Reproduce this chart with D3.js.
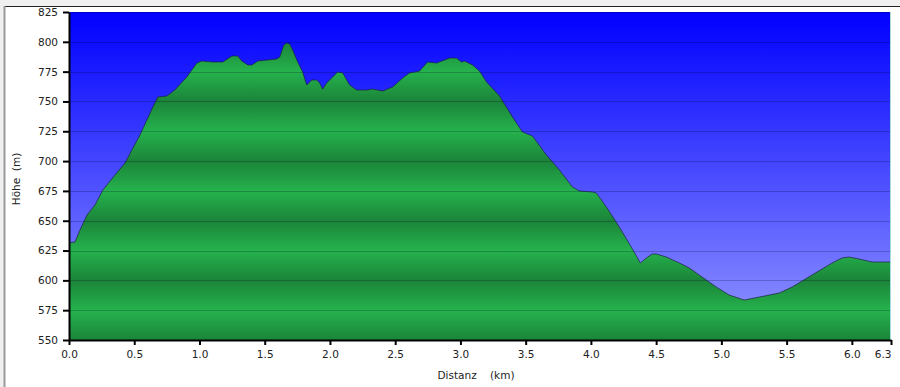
<!DOCTYPE html>
<html>
<head>
<meta charset="utf-8">
<script src="https://cdn.jsdelivr.net/npm/d3@7"></script>
<style>
  body { margin: 0; background: #f0f0f0; }
  svg { display: block; font-family: "DejaVu Sans", Verdana, sans-serif; }
</style>
</head>
<body>
<div id="vis"></div>
<script>
const FRAME_WIDTH = 900;
const FRAME_HEIGHT = 387;
const MARGINS = {left: 69, right: 9, top: 12, bottom: 47};
const VIS_WIDTH = FRAME_WIDTH - MARGINS.left - MARGINS.right;
const VIS_HEIGHT = FRAME_HEIGHT - MARGINS.top - MARGINS.bottom;

// profile: distance (km) and height (m)
const distKm = [0.000, 0.046, 0.084, 0.138, 0.199, 0.260, 0.352, 0.429, 0.482, 0.544,
  0.597, 0.643, 0.681, 0.750, 0.811, 0.903, 0.980, 1.018, 1.102, 1.179,
  1.248, 1.294, 1.324, 1.370, 1.401, 1.447, 1.592, 1.615, 1.646, 1.669,
  1.692, 1.715, 1.753, 1.791, 1.822, 1.860, 1.899, 1.921, 1.944, 1.975,
  2.021, 2.059, 2.098, 2.151, 2.205, 2.281, 2.327, 2.404, 2.480, 2.557,
  2.610, 2.687, 2.748, 2.817, 2.917, 2.970, 3.008, 3.031, 3.093, 3.146,
  3.200, 3.300, 3.399, 3.475, 3.552, 3.659, 3.759, 3.858, 3.912, 4.011,
  4.042, 4.119, 4.218, 4.318, 4.379, 4.425, 4.471, 4.502, 4.578, 4.678,
  4.754, 4.830, 4.961, 5.060, 5.175, 5.290, 5.443, 5.542, 5.695, 5.849,
  5.925, 5.979, 6.055, 6.155, 6.300];
const heightM = [631.3, 632.2, 642.2, 654.8, 663.2, 675.8, 688.3, 698.4, 709.3, 721.9,
  734.5, 745.4, 753.7, 754.6, 759.6, 770.5, 782.2, 783.9, 783.1, 783.1,
  788.1, 788.1, 783.9, 780.6, 780.6, 783.9, 785.6, 787.3, 797.3, 799.0,
  798.2, 793.1, 783.1, 774.7, 763.8, 768.0, 768.0, 765.5, 760.4, 765.5,
  770.5, 774.7, 773.9, 763.8, 759.6, 759.6, 760.4, 758.8, 762.1, 769.7,
  773.9, 775.5, 783.1, 782.2, 786.4, 786.4, 783.1, 783.9, 780.6, 775.5,
  766.3, 754.6, 737.0, 724.4, 721.0, 705.1, 692.5, 678.3, 674.9, 674.1,
  673.2, 661.5, 644.7, 626.3, 614.6, 618.8, 622.1, 622.1, 619.6, 614.6,
  610.4, 604.5, 594.4, 587.7, 583.5, 586.0, 589.4, 594.4, 604.5, 614.6,
  618.8, 619.6, 617.9, 615.4, 615.4];

const yTicks = [550, 575, 600, 625, 650, 675, 700, 725, 750, 775, 800, 825];
const xTicks = [0, 0.5, 1.0, 1.5, 2.0, 2.5, 3.0, 3.5, 4.0, 4.5, 5.0, 5.5, 6.0, 6.3];

const profile = distKm.map((d, i) => ({km: d, m: heightM[i]}));

const FRAME = d3.select("#vis")
  .append("svg")
  .attr("width", FRAME_WIDTH)
  .attr("height", FRAME_HEIGHT);

// panel
FRAME.append("rect")
  .attr("x", 4).attr("y", 6)
  .attr("width", FRAME_WIDTH - 4).attr("height", FRAME_HEIGHT - 6)
  .attr("fill", "#fff");
FRAME.append("line")
  .attr("x1", 4).attr("x2", FRAME_WIDTH).attr("y1", 6.5).attr("y2", 6.5)
  .attr("stroke", "#222");
FRAME.append("line")
  .attr("x1", 4.5).attr("x2", 4.5).attr("y1", 6).attr("y2", FRAME_HEIGHT)
  .attr("stroke", "#999").attr("stroke-width", 2);

const X_SCALE = d3.scaleLinear().domain([0, 6.3]).range([MARGINS.left, MARGINS.left + VIS_WIDTH]);
const Y_SCALE = d3.scaleLinear().domain([550, 825]).range([MARGINS.top + VIS_HEIGHT, MARGINS.top]);

const defs = FRAME.append("defs");

const sky = defs.append("linearGradient")
  .attr("id", "sky")
  .attr("x1", 0).attr("x2", 0).attr("y1", 0).attr("y2", 1);
sky.append("stop").attr("offset", "0%").attr("stop-color", "#0000ff");
sky.append("stop").attr("offset", "100%").attr("stop-color", "#9498ff");

// light on the odd 25s, dark on the 50s, repeated by reflection
const ground = defs.append("linearGradient")
  .attr("id", "ground")
  .attr("gradientUnits", "userSpaceOnUse")
  .attr("spreadMethod", "reflect")
  .attr("x1", 0).attr("x2", 0)
  .attr("y1", Y_SCALE(575)).attr("y2", Y_SCALE(550));
ground.append("stop").attr("offset", "0%").attr("stop-color", "#25b24d");
ground.append("stop").attr("offset", "100%").attr("stop-color", "#1b8439");

FRAME.append("rect")
  .attr("x", MARGINS.left).attr("y", MARGINS.top)
  .attr("width", VIS_WIDTH).attr("height", VIS_HEIGHT)
  .attr("fill", "url(#sky)");

const area = d3.area()
  .x((d) => X_SCALE(d.km))
  .y0(Y_SCALE(550))
  .y1((d) => Y_SCALE(d.m));

const line = d3.line()
  .x((d) => X_SCALE(d.km))
  .y((d) => Y_SCALE(d.m));

FRAME.append("path")
  .datum(profile)
  .attr("d", area)
  .attr("fill", "url(#ground)");

// grid
FRAME.append("g")
  .selectAll("line")
  .data(yTicks.slice(1))
  .enter()
  .append("line")
  .attr("x1", MARGINS.left).attr("x2", MARGINS.left + VIS_WIDTH)
  .attr("y1", (d) => Math.round(Y_SCALE(d)) + 0.5)
  .attr("y2", (d) => Math.round(Y_SCALE(d)) + 0.5)
  .attr("stroke", "#000020")
  .attr("stroke-opacity", 0.22);

FRAME.append("path")
  .datum(profile)
  .attr("d", line)
  .attr("fill", "none")
  .attr("stroke", "#1a1a3a")
  .attr("stroke-opacity", 0.65)
  .attr("stroke-width", 1);

// right edge of plot
FRAME.append("line")
  .attr("x1", MARGINS.left + VIS_WIDTH - 0.5).attr("x2", MARGINS.left + VIS_WIDTH - 0.5)
  .attr("y1", MARGINS.top).attr("y2", MARGINS.top + VIS_HEIGHT)
  .attr("stroke", "#a8dcdc");

// axes
const xAxis = FRAME.append("g")
  .attr("transform", "translate(0," + (MARGINS.top + VIS_HEIGHT) + ")")
  .call(d3.axisBottom(X_SCALE).tickValues(xTicks).tickFormat(d3.format(".1f")).tickSize(5).tickSizeOuter(0))
  .attr("font-size", "10.5px")
  .attr("font-family", "DejaVu Sans, Verdana, sans-serif");

const yAxis = FRAME.append("g")
  .attr("transform", "translate(" + MARGINS.left + ",0)")
  .call(d3.axisLeft(Y_SCALE).tickValues(yTicks).tickSize(6).tickSizeOuter(0))
  .attr("font-size", "10.5px")
  .attr("font-family", "DejaVu Sans, Verdana, sans-serif");

[xAxis, yAxis].forEach((g) => {
  g.select(".domain").attr("stroke", "#000").attr("stroke-width", 2);
  g.selectAll(".tick line").attr("stroke", "#000").attr("stroke-width", 2);
  g.selectAll(".tick text").attr("fill", "#222");
});
xAxis.selectAll(".tick text").attr("dy", "0.95em");
// last label sits left of its tick
xAxis.selectAll(".tick text").filter((d) => d === 6.3)
  .attr("text-anchor", "end").attr("x", 0);
yAxis.selectAll(".tick text").attr("x", -11);

FRAME.append("text")
  .attr("x", 476).attr("y", 379)
  .attr("text-anchor", "middle")
  .attr("font-size", "10.5px")
  .attr("fill", "#222")
  .style("white-space", "pre")
  .text("Distanz    (km)");

FRAME.append("text")
  .attr("transform", "translate(20,179) rotate(-90)")
  .attr("text-anchor", "middle")
  .attr("font-size", "10.5px")
  .attr("fill", "#222")
  .style("white-space", "pre")
  .text("Höhe  (m)");
</script>
</body>
</html>
